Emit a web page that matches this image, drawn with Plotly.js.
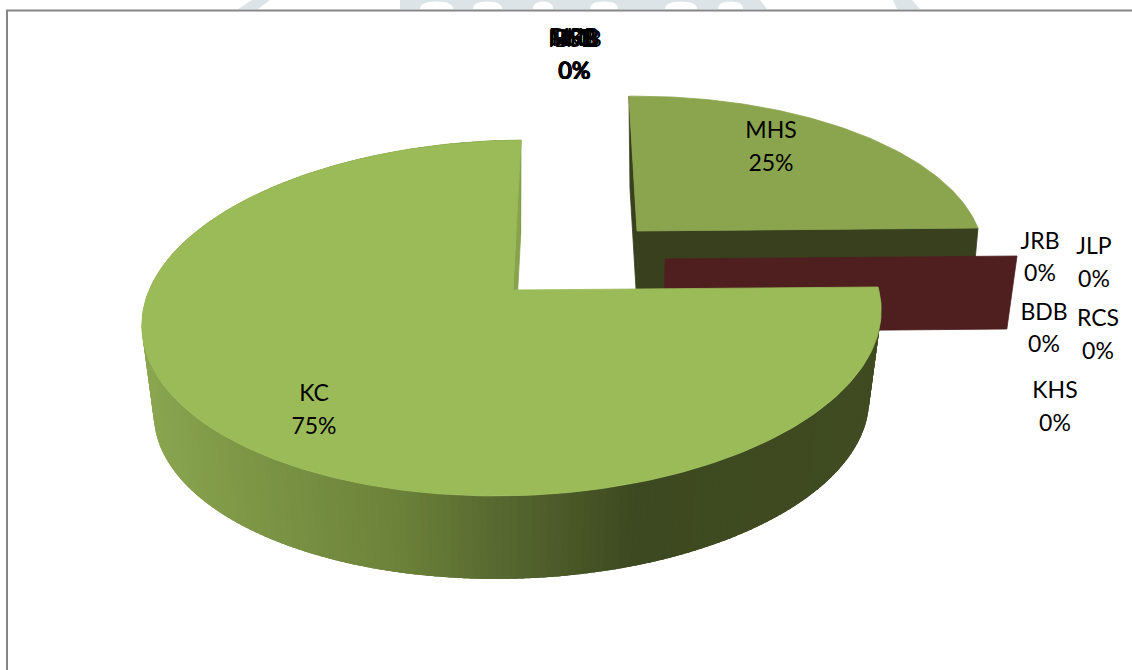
<!DOCTYPE html>
<html>
<head>
<meta charset="utf-8">
<script src="https://cdn.plot.ly/plotly-3.0.1.min.js"></script>
<style>html,body{margin:0;padding:0;background:#fff;overflow:hidden}</style>
</head>
<body>
<div id="chart" style="width:1132px;height:670px"></div>
<script>
// Slice values, in drawing order clockwise from twelve o'clock.
const sliceNames  = ['MHS', 'JRB', 'JLP', 'BDB', 'RCS', 'KHS', 'KC', 'MKB', 'HSB', 'RSB', 'DHB', 'BSB', 'NHB', 'MRB', 'HMB'];
const sliceValues = [25, 0, 0, 0, 0, 0, 75, 0, 0, 0, 0, 0, 0, 0, 0];

// Label anchors on the page, one per slice: name line, then percent line.
const labelX     = [771, 1040, 1094, 1044, 1098, 1055, 314, 574, 574, 575, 574, 575, 574, 574, 575];
const labelNameY = [132.5, 243.5, 248.5, 314.5, 320.5, 392.5, 395.5, 40, 40, 40, 39, 41, 40, 39, 41];
const labelPctY  = [165.5, 275.5, 281.5, 346.5, 353.5, 425.5, 428.5, 73, 73, 73, 72.5, 73, 73, 73.5, 73];

// Perspective disc per exploded slice: centre, radii, tilt terms.
const discs = {
  KC:  {cx: 513, cy: 290, rx: 365, ry: 173.6, sh: -9.3, ty: -3, k: 0.157,
        xv: 510.5, xs: 0.9675, ys: 0.9675, dy: 99.1},
  MHS: {cx: 637, cy: 231, rx: 341, ry: 156, sh: 9.3, ty: -3, k: 0.157,
        xv: 668, xs: 0.974, ys: 0.97, dy: 94.9},
  JRB: {cx: 665, cy: 259, rx: 352, ry: 160, sh: 0, ty: -3, k: 0.157,
        xv: 626, xs: 0.974, ys: 1, dy: 73}
};

const faceColors = {KC: '#9bbb59', MHS: '#8ba54e'};
const wallColors = {KC: '#87a34b', MHS: '#38401e', JRB: '#4f1f20'};

// Shade of the curved rim, by horizontal position on the page.
const rimStops = [[141, [139, 166, 80]], [250, [124, 150, 70]], [400, [108, 130, 57]],
                  [500, [88, 105, 48]], [640, [61, 73, 32]], [880, [64, 75, 33]]];

function rimColor(x) {
  let i = 0;
  while (i < rimStops.length - 2 && x > rimStops[i + 1][0]) i++;
  const [x0, c0] = rimStops[i], [x1, c1] = rimStops[i + 1];
  const t = Math.max(0, Math.min(1, (x - x0) / (x1 - x0)));
  const c = c0.map((v, j) => Math.round(v + (c1[j] - v) * t));
  return `rgb(${c[0]},${c[1]},${c[2]})`;
}

// Point on the top rim for a clockwise angle (degrees from twelve o'clock).
function rimPoint(d, deg) {
  const a = deg * Math.PI / 180, u = Math.sin(a), v = -Math.cos(a), w = 1 - d.k * v;
  return [d.cx + (d.rx * u + d.sh * v) / w, d.cy + (d.ry * v + d.ty * u) / w];
}
const apex = d => [d.cx, d.cy];
// The same point pushed down to the underside of the pie.
const lower = (d, p) => [d.xv + (p[0] - d.xv) * d.xs, p[1] * d.ys + d.dy];

function polygon(points, color, edge) {
  const xs = points.map(p => p[0]), ys = points.map(p => p[1]);
  xs.push(xs[0]); ys.push(ys[0]);
  return {x: xs, y: ys, type: 'scatter', mode: 'lines', fill: 'toself', fillcolor: color,
          line: {color: color, width: edge}, hoverinfo: 'skip', showlegend: false};
}

function radialWall(d, deg, color) {
  const a = apex(d), r = rimPoint(d, deg);
  return polygon([a, r, lower(d, r), lower(d, a)], color, 0.8);
}

function topFace(d, from, to, color) {
  const pts = [apex(d)];
  for (let t = from; t <= to; t += 1) pts.push(rimPoint(d, t));
  return polygon(pts, color, 0.8);
}

// Slice start angles follow from the cumulative shares.
const total = sliceValues.reduce((a, b) => a + b, 0);
const starts = [];
sliceValues.reduce((acc, v, i) => { starts[i] = acc; return acc + v / total * 360; }, 0);
const range = name => {
  const i = sliceNames.indexOf(name);
  return [starts[i], starts[i] + sliceValues[i] / total * 360];
};

const traces = [];

// Far slice: its two cut walls, then its top.
const [mFrom, mTo] = range('MHS');
traces.push(radialWall(discs.MHS, mFrom, wallColors.MHS));
traces.push(radialWall(discs.MHS, mTo, wallColors.MHS));
traces.push(topFace(discs.MHS, mFrom, mTo, faceColors.MHS));

// Zero-width slice: only its cut wall shows.
traces.push(radialWall(discs.JRB, range('JRB')[0], wallColors.JRB));

// Large slice: shaded rim in overlapping strips from the right round to the left,
// so each strip hides the soft edge of the one before it.
const [kFrom, kTo] = range('KC');
for (let t = kFrom; t < kTo; t += 1) {
  const p = rimPoint(discs.KC, t), q = rimPoint(discs.KC, Math.min(t + 2.5, kTo));
  traces.push(polygon([p, q, lower(discs.KC, q), lower(discs.KC, p)], rimColor(p[0]), 0));
}
traces.push(radialWall(discs.KC, kTo, wallColors.KC));
traces.push(topFace(discs.KC, kFrom, kTo, faceColors.KC));

// Data labels: name above percentage.
sliceNames.forEach((name, i) => {
  traces.push({
    x: [labelX[i], labelX[i]], y: [labelNameY[i], labelPctY[i]],
    text: [name, Math.round(sliceValues[i] / total * 100) + '%'],
    type: 'scatter', mode: 'text', textposition: 'middle center',
    textfont: {family: 'Lato, Carlito, sans-serif', size: 23, color: '#000'},
    hoverinfo: 'skip', showlegend: false
  });
});

// Page furniture: pale letterhead strip and the chart frame.
const pale = '#dce4e8';
const bandPath = (a, b, c, d) => `M${a},0 L${b},0 L${c},9 L${d},9 Z`;
const domePath = (a, b) => `M${a},9 Q${a},1.5 ${(a + b) / 2},1.5 Q${b},1.5 ${b},9 Z`;
const paleBands = [[252, 270, 258, 238], [400, 760, 767, 400], [893, 912, 920, 897]];
const whiteDomes = [[420, 453], [473, 502], [533, 553], [590, 618], [665, 697], [718, 743]];
const shapes = [];
paleBands.forEach(b => shapes.push({type: 'path', path: bandPath(...b), fillcolor: pale,
  line: {width: 0}, xref: 'x', yref: 'y', layer: 'below'}));
whiteDomes.forEach(b => shapes.push({type: 'path', path: domePath(...b), fillcolor: '#fff',
  line: {width: 0}, xref: 'x', yref: 'y', layer: 'below'}));
shapes.push({type: 'path', path: 'M7,670 L7,10.5 L1132,10.5', line: {color: '#868686', width: 2},
  xref: 'x', yref: 'y', layer: 'below'});

const hidden = {visible: false, fixedrange: true};
Plotly.newPlot('chart', traces, {
  width: 1132, height: 670,
  margin: {l: 0, r: 0, t: 0, b: 0},
  paper_bgcolor: '#fff', plot_bgcolor: '#fff',
  xaxis: Object.assign({range: [0, 1132]}, hidden),
  yaxis: Object.assign({range: [670, 0]}, hidden),
  shapes: shapes,
  showlegend: false
}, {displayModeBar: false, staticPlot: true});
</script>
</body>
</html>
